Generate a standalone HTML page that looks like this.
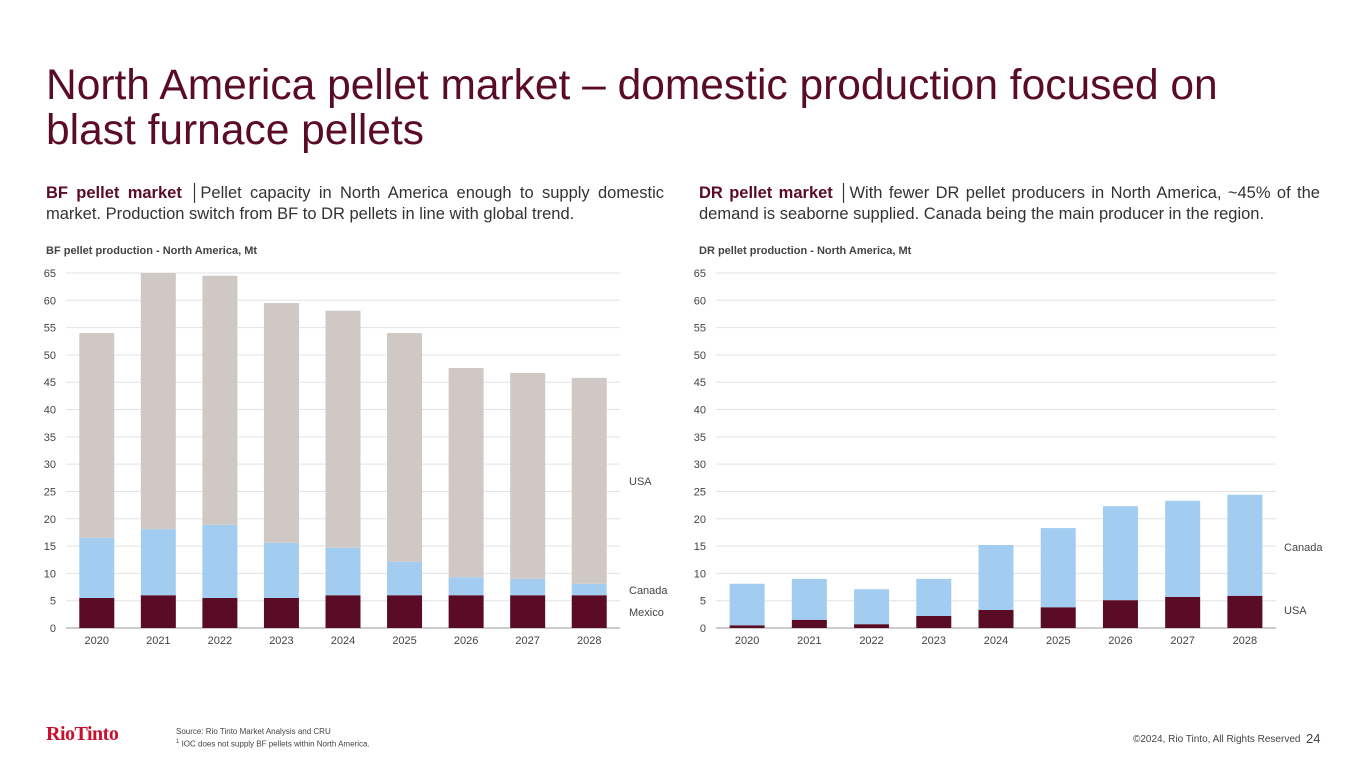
<!DOCTYPE html>
<html><head><meta charset="utf-8"><style>
body{margin:0;width:1365px;height:768px;background:#fff;font-family:"Liberation Sans",Arial,sans-serif;position:relative;overflow:hidden}
.abs{position:absolute}
h1{position:absolute;left:46px;top:63px;margin:0;font-weight:normal;font-size:42.5px;line-height:45px;color:#5a0b25;width:1240px}
.desc{font-size:16.5px;line-height:21px;color:#333;text-align:justify}
.desc b{color:#5a0b25}
.ct{font-size:11px;font-weight:bold;color:#444}
</style></head><body>
<h1>North America pellet market – domestic production focused on blast furnace pellets</h1>
<div class="abs desc" style="left:46px;top:183px;width:618px"><b>BF pellet market</b> │Pellet capacity in North America enough to supply domestic market. Production switch from BF to DR pellets in line with global trend.</div>
<div class="abs desc" style="left:699px;top:183px;width:621px"><b>DR pellet market</b> │With fewer DR pellet producers in North America, ~45% of the demand is seaborne supplied. Canada being the main producer in the region.</div>
<div class="abs ct" style="left:46px;top:245px">BF pellet production - North America, Mt</div>
<div class="abs ct" style="left:699px;top:245px">DR pellet production - North America, Mt</div>
<svg id="chart" class="abs" style="left:0;top:0" width="1365" height="768"></svg>
<div class="abs" style="left:46px;top:723px;font-family:'Liberation Serif',serif;font-size:20px;font-weight:bold;color:#c8102e;letter-spacing:-0.5px">RioTinto</div>
<div class="abs" style="left:176px;top:727px;font-size:8px;line-height:10px;color:#444">Source: Rio Tinto Market Analysis and CRU<br><sup style="font-size:6px">1</sup> IOC does not supply BF pellets within North America.</div>
<div class="abs" style="left:1133px;top:734px;font-size:10px;color:#444">©2024, Rio Tinto, All Rights Reserved</div>
<div class="abs" style="left:1306px;top:731px;font-size:13px;color:#444">24</div>
<script>
const years=["2020","2021","2022","2023","2024","2025","2026","2027","2028"];
const ticks=[0,5,10,15,20,25,30,35,40,45,50,55,60,65];
const bfMexico=[5.5,6.0,5.5,5.5,6.0,6.0,6.0,6.0,6.0];
const bfCanada=[11.0,12.1,13.4,10.1,8.7,6.1,3.3,3.0,2.1];
const bfUSA=[37.5,46.9,45.6,43.9,43.4,41.9,38.3,37.7,37.7];
const drUSA=[0.5,1.5,0.7,2.2,3.3,3.8,5.1,5.7,5.9];
const drCanada=[7.6,7.5,6.4,6.8,11.9,14.5,17.2,17.6,18.5];
const NS="http://www.w3.org/2000/svg";
const svg=document.getElementById('chart');
function mk(t,a,txt){const e=document.createElementNS(NS,t);for(const k in a)e.setAttribute(k,a[k]);if(txt!==undefined)e.textContent=txt;svg.appendChild(e);return e;}
const y0=628,y1=273,yMax=65;
const yS=v=>y0-(v/yMax)*(y0-y1);
function chart(prefix,x0,x1,series,colors,labels){
  const step=(x1-x0)/years.length, bw=35;
  const xS=i=>x0+step*(i+0.5);
  ticks.forEach(t=>{
    const l=mk('line',{x1:x0,x2:x1,y1:yS(t),y2:yS(t),stroke:t===0?'#999':'#e3e3e3','stroke-width':1});
    
    
    const tx=mk('text',{x:x0-10,y:yS(t)+4,'text-anchor':'end','font-size':11,fill:'#444','font-family':'Liberation Sans'},t);
    
    
  });
  years.forEach((yr,i)=>{
    let acc=0;
    series.forEach((s,j)=>{
      const r=mk('rect',{x:xS(i)-bw/2,y:yS(acc+s[i]),width:bw,height:yS(acc)-yS(acc+s[i]),fill:colors[j]});
      
      
      acc+=s[i];
    });
    const tx=mk('text',{x:xS(i),y:y0+16,'text-anchor':'middle','font-size':11,fill:'#444','font-family':'Liberation Sans'},yr);
    
    
  });
}
chart('bf',66,620,[bfMexico,bfCanada,bfUSA],['#5a0b25','#a3cdf0','#d0c8c5'],['Mexico','Canada','USA']);
chart('dr',716,1276,[drUSA,drCanada],['#5a0b25','#a3cdf0'],['USA','Canada']);
[['USA',629,485],['Canada',629,594],['Mexico',629,616],['Canada',1284,551],['USA',1284,614]].forEach(([t,x,y])=>{
  const e=mk('text',{x:x,y:y,'font-size':11,fill:'#444','font-family':'Liberation Sans'},t);
  
  
});
</script>
</body></html>
